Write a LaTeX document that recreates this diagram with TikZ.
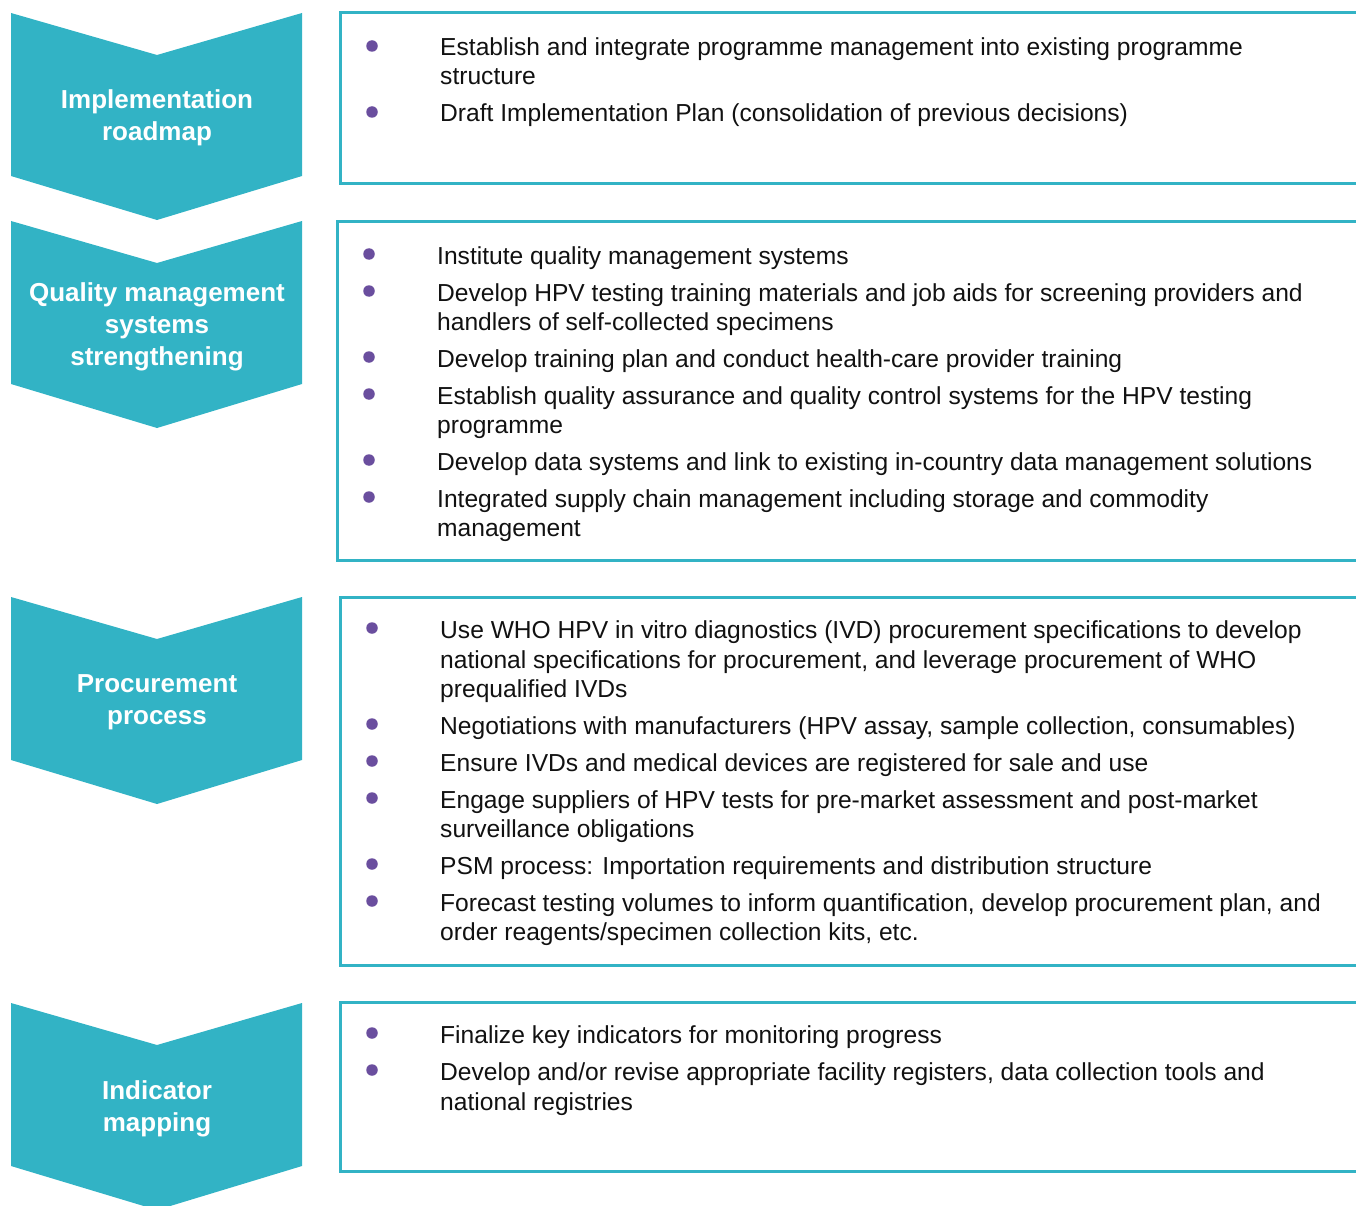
\documentclass[tikz,border=0pt]{standalone}
\usepackage{fontspec}
\setmainfont{Liberation Sans}
\definecolor{teal1}{HTML}{32B3C5}
\definecolor{purp}{HTML}{6A4E9E}
\definecolor{ink}{HTML}{111111}
\begin{document}
\begin{tikzpicture}[x=1pt,y=-1pt,
  chev/.style={fill=teal1,draw=none},
  chevtext/.style={text=white,font=\bfseries\fontsize{26}{32}\selectfont,align=center,inner sep=0pt},
  panel/.style={draw=teal1,line width=3pt},
  itm/.style={anchor=base west,inner sep=0pt,text=ink,font=\fontsize{24.6}{29}\selectfont},
  dot/.style={circle,fill=purp,inner sep=0pt,minimum size=11.5pt}]
\useasboundingbox (0,0) rectangle (1356,1206);
\clip (0,0) rectangle (1356,1206);
% chevrons
\draw[chev] (11,13) -- (157,55) -- (302,13) -- (302,176) -- (157,220) -- (11,176) -- cycle;
\draw[chev] (11,221) -- (157,263) -- (302,221) -- (302,384) -- (157,428) -- (11,384) -- cycle;
\draw[chev] (11,597) -- (157,639) -- (302,597) -- (302,760) -- (157,804) -- (11,760) -- cycle;
\draw[chev] (11,1003) -- (157,1045) -- (302,1003) -- (302,1166) -- (157,1210) -- (11,1166) -- cycle;
\node[chevtext] (c1) at (157,118) {Implementation\\roadmap};
\node[chevtext] (c2) at (157,327) {Quality management\\systems\\strengthening};
\node[chevtext] (c3) at (157,702) {Procurement\\process};
\node[chevtext] (c4) at (157,1109) {Indicator\\mapping};
% panels
\draw[panel] (340,13) rectangle (1380,184);
\draw[panel] (337,222) rectangle (1380,560);
\draw[panel] (340,597) rectangle (1380,965);
\draw[panel] (340,1002) rectangle (1380,1171);
% panel 1
\node[dot] (b11) at (372,46) {};
\node[dot] (b12) at (372,112) {};
\node[itm] (t11) at (440,56) {Establish and integrate programme management into existing programme};
\node[itm] (t11b) at (440,85) {structure};
\node[itm] (t12) at (440,122) {Draft Implementation Plan (consolidation of previous decisions)};
% panel 2
\node[dot] (b21) at (369,254) {};
\node[dot] (b22) at (369,291) {};
\node[dot] (b23) at (369,357) {};
\node[dot] (b24) at (369,394) {};
\node[dot] (b25) at (369,460) {};
\node[dot] (b26) at (369,497) {};
\node[itm] (t21) at (437,264) {Institute quality management systems};
\node[itm] (t22) at (437,301) {Develop HPV testing training materials and job aids for screening providers and};
\node[itm] (t22b) at (437,330) {handlers of self-collected specimens};
\node[itm] (t23) at (437,367) {Develop training plan and conduct health-care provider training};
\node[itm] (t24) at (437,404) {Establish quality assurance and quality control systems for the HPV testing};
\node[itm] (t24b) at (437,433) {programme};
\node[itm] (t25) at (437,470) {Develop data systems and link to existing in-country data management solutions};
\node[itm] (t26) at (437,507) {Integrated supply chain management including storage and commodity};
\node[itm] (t26b) at (437,536) {management};
% panel 3
\node[dot] (b31) at (372,628) {};
\node[dot] (b32) at (372,724) {};
\node[dot] (b33) at (372,761) {};
\node[dot] (b34) at (372,798) {};
\node[dot] (b35) at (372,864) {};
\node[dot] (b36) at (372,901) {};
\node[itm] (t31) at (440,638) {Use WHO HPV in vitro diagnostics (IVD) procurement specifications to develop};
\node[itm] (t31b) at (440,668) {national specifications for procurement, and leverage procurement of WHO};
\node[itm] (t31c) at (440,697) {prequalified IVDs};
\node[itm] (t32) at (440,734) {Negotiations with manufacturers (HPV assay, sample collection, consumables)};
\node[itm] (t33) at (440,771) {Ensure IVDs and medical devices are registered for sale and use};
\node[itm] (t34) at (440,808) {Engage suppliers of HPV tests for pre-market assessment and post-market};
\node[itm] (t34b) at (440,837) {surveillance obligations};
\node[itm] (t35) at (440,874) {PSM process: Importation requirements and distribution structure};
\node[itm] (t36) at (440,911) {Forecast testing volumes to inform quantification, develop procurement plan, and};
\node[itm] (t36b) at (440,940) {order reagents/specimen collection kits, etc.};
% panel 4
\node[dot] (b41) at (372,1033) {};
\node[dot] (b42) at (372,1070) {};
\node[itm] (t41) at (440,1043) {Finalize key indicators for monitoring progress};
\node[itm] (t42) at (440,1080) {Develop and/or revise appropriate facility registers, data collection tools and};
\node[itm] (t42b) at (440,1110) {national registries};
\end{tikzpicture}
\end{document}
